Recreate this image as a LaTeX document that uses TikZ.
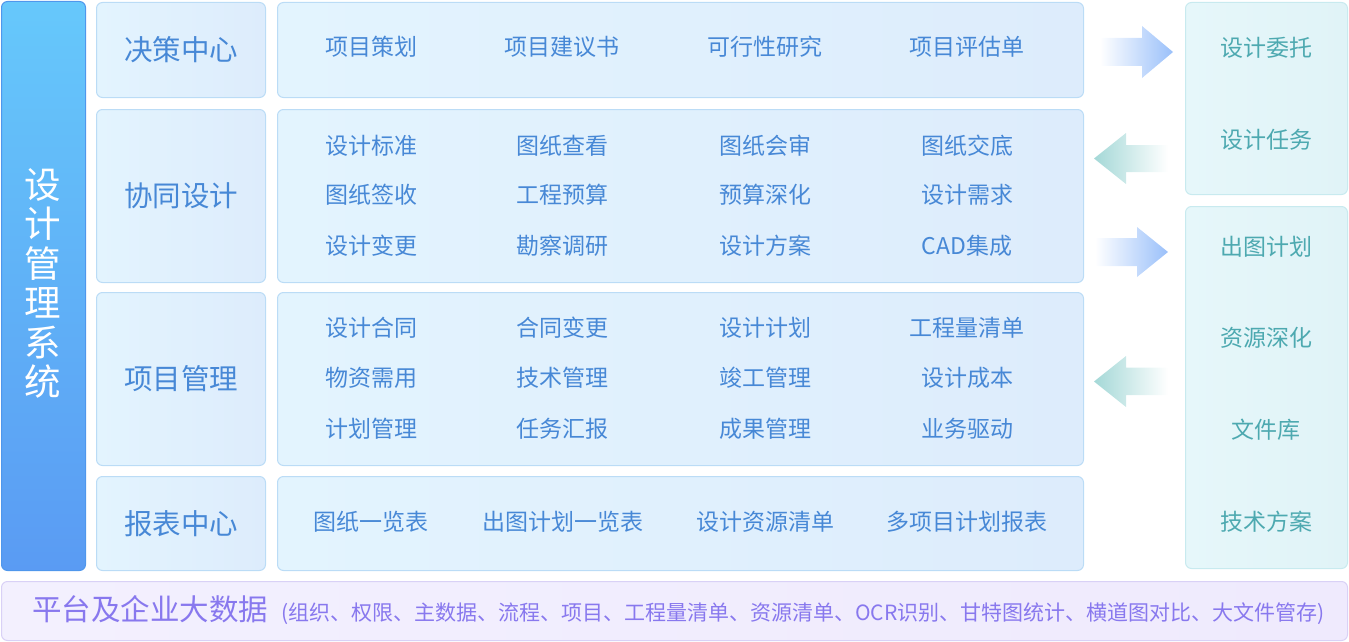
\documentclass[tikz,border=0pt]{standalone}
\usepackage{fontspec}
\setmainfont{Noto Sans CJK SC}
\definecolor{sysA}{HTML}{66C8FB}
\definecolor{sysB}{HTML}{5A9BF3}
\definecolor{sysBorder}{HTML}{4F97EC}
\definecolor{boxA}{HTML}{E3F4FE}
\definecolor{boxB}{HTML}{DDECFC}
\definecolor{boxBorder}{HTML}{BBDCF6}
\definecolor{txtBlue}{HTML}{4788D6}
\definecolor{resA}{HTML}{E6F7FA}
\definecolor{resB}{HTML}{E0F3F7}
\definecolor{resBorder}{HTML}{C8EAEF}
\definecolor{txtTeal}{HTML}{4DA9B0}
\definecolor{platA}{HTML}{F3F0FE}
\definecolor{platB}{HTML}{EFEAFD}
\definecolor{platBorder}{HTML}{D9D1F6}
\definecolor{txtPurple}{HTML}{8878EE}
\definecolor{arrBlue}{HTML}{9AC0FA}
\definecolor{arrTeal}{HTML}{A4D8D7}
\tikzset{
  panel/.style={rounded corners=6pt, line width=1pt, inner sep=0pt, anchor=north west},
  catbox/.style={panel, draw=boxBorder, left color=boxA, right color=boxB, text=txtBlue,
     font=\fontsize{28.5}{30}\selectfont},
  conbox/.style={panel, draw=boxBorder, left color=boxA, right color=boxB},
  resbox/.style={panel, draw=resBorder, left color=resA, right color=resB},
  item/.style={text=txtBlue, font=\fontsize{23}{25}\selectfont, inner sep=0pt},
  res/.style={text=txtTeal, font=\fontsize{23}{25}\selectfont, inner sep=0pt},
}
\begin{document}
\begin{tikzpicture}[x=1pt,y=-1pt]
\useasboundingbox (0,0) rectangle (1349,642);
% system column
\node[panel, draw=sysBorder, top color=sysA, bottom color=sysB,
      minimum width=84pt, minimum height=569pt] (sys) at (1,1) {};
\node[text=white, align=center, font=\fontsize{36.5}{39.5}\selectfont, inner sep=0pt]
      (systxt) at (43,283.5) {设\\计\\管\\理\\系\\统};
% categories
\node[catbox, minimum width=169pt, minimum height=95pt]  (cat1) at (96,2)   {决策中心};
\node[catbox, minimum width=169pt, minimum height=173pt] (cat2) at (96,109) {协同设计};
\node[catbox, minimum width=169pt, minimum height=173pt] (cat3) at (96,292) {项目管理};
\node[catbox, minimum width=169pt, minimum height=94pt]  (cat4) at (96,476) {报表中心};
% content panels
\node[conbox, minimum width=806pt, minimum height=95pt]  (con1) at (277,2)   {};
\node[conbox, minimum width=806pt, minimum height=173pt] (con2) at (277,109) {};
\node[conbox, minimum width=806pt, minimum height=173pt] (con3) at (277,292) {};
\node[conbox, minimum width=806pt, minimum height=94pt]  (con4) at (277,476) {};
% row 1
\node[item] (a1) at (371,47) {项目策划};
\node[item] (a2) at (562,47) {项目建议书};
\node[item] (a3) at (765,47) {可行性研究};
\node[item] (a4) at (967,47) {项目评估单};
% row 2
\node[item] (b11) at (371,146) {设计标准};
\node[item] (b12) at (562,146) {图纸查看};
\node[item] (b13) at (765,146) {图纸会审};
\node[item] (b14) at (967,146) {图纸交底};
\node[item] (b21) at (371,195) {图纸签收};
\node[item] (b22) at (562,195) {工程预算};
\node[item] (b23) at (765,195) {预算深化};
\node[item] (b24) at (967,195) {设计需求};
\node[item] (b31) at (371,246) {设计变更};
\node[item] (b32) at (562,246) {勘察调研};
\node[item] (b33) at (765,246) {设计方案};
\node[item] (b34) at (967,246) {CAD集成};
% row 3
\node[item] (c11) at (371,328) {设计合同};
\node[item] (c12) at (562,328) {合同变更};
\node[item] (c13) at (765,328) {设计计划};
\node[item] (c14) at (967,328) {工程量清单};
\node[item] (c21) at (371,378) {物资需用};
\node[item] (c22) at (562,378) {技术管理};
\node[item] (c23) at (765,378) {竣工管理};
\node[item] (c24) at (967,378) {设计成本};
\node[item] (c31) at (371,429) {计划管理};
\node[item] (c32) at (562,429) {任务汇报};
\node[item] (c33) at (765,429) {成果管理};
\node[item] (c34) at (967,429) {业务驱动};
% row 4
\node[item] (d1) at (371,522) {图纸一览表};
\node[item] (d2) at (563,522) {出图计划一览表};
\node[item] (d3) at (765,522) {设计资源清单};
\node[item] (d4) at (967,522) {多项目计划报表};
% right resource panels
\node[resbox, minimum width=162pt, minimum height=192pt] (r1) at (1185,2)   {};
\node[resbox, minimum width=162pt, minimum height=362pt] (r2) at (1185,206) {};
\node[res] (e1) at (1266,48)  {设计委托};
\node[res] (e2) at (1266,140) {设计任务};
\node[res] (e3) at (1266,247) {出图计划};
\node[res] (e4) at (1266,338) {资源深化};
\node[res] (e5) at (1266,430) {文件库};
\node[res] (e6) at (1266,522) {技术方案};
% arrows
\shade[left color=white, right color=arrBlue]
  (1100,38) -- (1142,38) -- (1142,26) -- (1173,52) -- (1142,78) -- (1142,66) -- (1100,66) -- cycle;
\shade[left color=arrTeal, right color=white]
  (1168,145) -- (1126,145) -- (1126,133) -- (1094,158.5) -- (1126,184) -- (1126,172) -- (1168,172) -- cycle;
\shade[left color=white, right color=arrBlue]
  (1095,238) -- (1137,238) -- (1137,227) -- (1168,252) -- (1137,277) -- (1137,266) -- (1095,266) -- cycle;
\shade[left color=arrTeal, right color=white]
  (1168,367.5) -- (1126,367.5) -- (1126,356) -- (1094,381.5) -- (1126,407) -- (1126,395) -- (1168,395) -- cycle;
% platform bar
\node[panel, draw=platBorder, left color=platA, right color=platB,
      minimum width=1346pt, minimum height=59pt] (plat) at (1,581) {};
\node[anchor=west, inner sep=0pt, text=txtPurple] (plattxt) at (32,610)
  {\fontsize{29.5}{31}\selectfont 平台及企业大数据\hspace{13pt}\fontsize{21}{24}\selectfont (组织、权限、主数据、流程、项目、工程量清单、资源清单、OCR识别、甘特图统计、横道图对比、大文件管存)};
\end{tikzpicture}
\end{document}
